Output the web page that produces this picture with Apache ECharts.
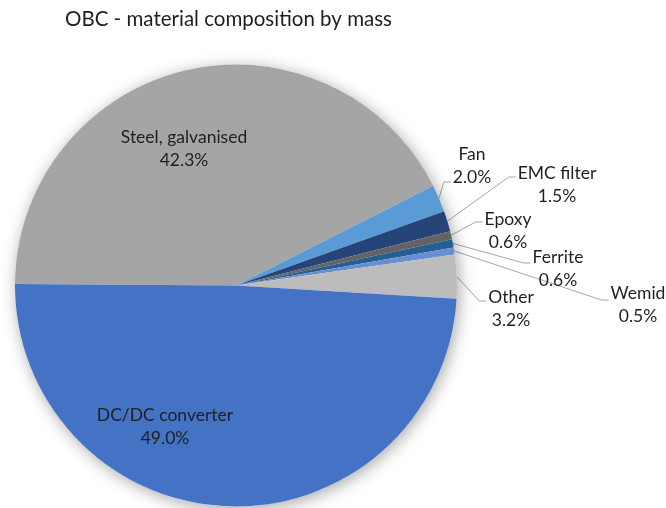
<!DOCTYPE html>
<html>
<head>
<meta charset="utf-8">
<script src="https://cdn.jsdelivr.net/npm/echarts@6/dist/echarts.min.js"></script>
<style>
  html, body { margin: 0; padding: 0; background: #ffffff; }
  #chart { width: 666px; height: 508px; }
</style>
</head>
<body>
<div id="chart"></div>
<script>
// Material composition of the on-board charger, share of total mass (%)
const materials = ['Steel, galvanised', 'Fan', 'EMC filter', 'Epoxy', 'Ferrite', 'Wemid', 'Other', 'DC/DC converter'];
const massShare = [42.3, 2.0, 1.5, 0.6, 0.6, 0.5, 3.2, 49.0];
const sliceColors = ['#A5A5A5', '#5B9BD5', '#264478', '#636363', '#255E91', '#698ED0', '#BCBCBC', '#4472C4'];

// Slices large enough to carry their label inside
const insideLabels = ['Steel, galvanised', 'DC/DC converter'];

// Label block centres and leader-line end heights (px)
const labelSpots = {
  'Steel, galvanised': { cx: 184, cy: 149 },
  'DC/DC converter':   { cx: 165, cy: 427 },
  'Fan':               { cx: 472, cy: 166, lineDy: 16 },
  'EMC filter':        { cx: 557, cy: 185, lineDy: -8 },
  'Epoxy':             { cx: 508, cy: 231, lineDy: -9 },
  'Ferrite':           { cx: 558, cy: 269, lineDy: -6 },
  'Wemid':             { cx: 638, cy: 305, lineDy: -5 },
  'Other':             { cx: 511, cy: 309, lineDy: -8 }
};

const FONT = 'Lato, "Open Sans", sans-serif';

const chart = echarts.init(document.getElementById('chart'), null, { renderer: 'canvas' });

const pieData = materials.map((name, i) => ({
  name: name,
  value: massShare[i],
  itemStyle: { color: sliceColors[i] },
  labelLine: { show: insideLabels.indexOf(name) < 0 }
}));

chart.setOption({
  animation: false,
  backgroundColor: '#ffffff',
  title: {
    text: 'OBC - material composition by mass',
    left: 60,
    top: 4,
    textStyle: { fontFamily: FONT, fontSize: 20.5, fontWeight: 'normal', color: '#1f1f1f' }
  },
  series: [
    {
      // soft drop shadow under the whole pie
      type: 'pie',
      silent: true,
      center: [236, 285.5],
      radius: 221,
      label: { show: false },
      labelLine: { show: false },
      itemStyle: {
        color: '#ffffff',
        shadowBlur: 16,
        shadowOffsetX: 2,
        shadowOffsetY: 3,
        shadowColor: 'rgba(0,0,0,0.35)'
      },
      data: [{ value: 1, name: '' }]
    },
    {
      type: 'pie',
      center: [236, 285.5],
      radius: 221,
      startAngle: 179.6,
      clockwise: true,
      avoidLabelOverlap: false,
      itemStyle: { borderWidth: 0 },
      label: {
        show: true,
        fontFamily: FONT,
        fontSize: 17.5,
        lineHeight: 23,
        color: '#1f1f1f',
        align: 'center',
        formatter: (p) => p.name + '\n' + massShare[p.dataIndex].toFixed(1) + '%'
      },
      labelLine: {
        show: true,
        lineStyle: { color: '#A6A6A6', width: 1 }
      },
      labelLayout: function (params) {
        const name = materials[params.dataIndex];
        const spot = labelSpots[name];
        const out = { x: spot.cx, y: spot.cy, align: 'center', verticalAlign: 'middle' };
        if (insideLabels.indexOf(name) < 0 && params.labelLinePoints) {
          const start = params.labelLinePoints[0];
          const endX = spot.cx - params.labelRect.width / 2 - 2;
          const endY = spot.cy + spot.lineDy;
          out.labelLinePoints = [start, [endX - 7, endY], [endX, endY]];
        }
        return out;
      },
      data: pieData
    }
  ]
});
</script>
</body>
</html>
